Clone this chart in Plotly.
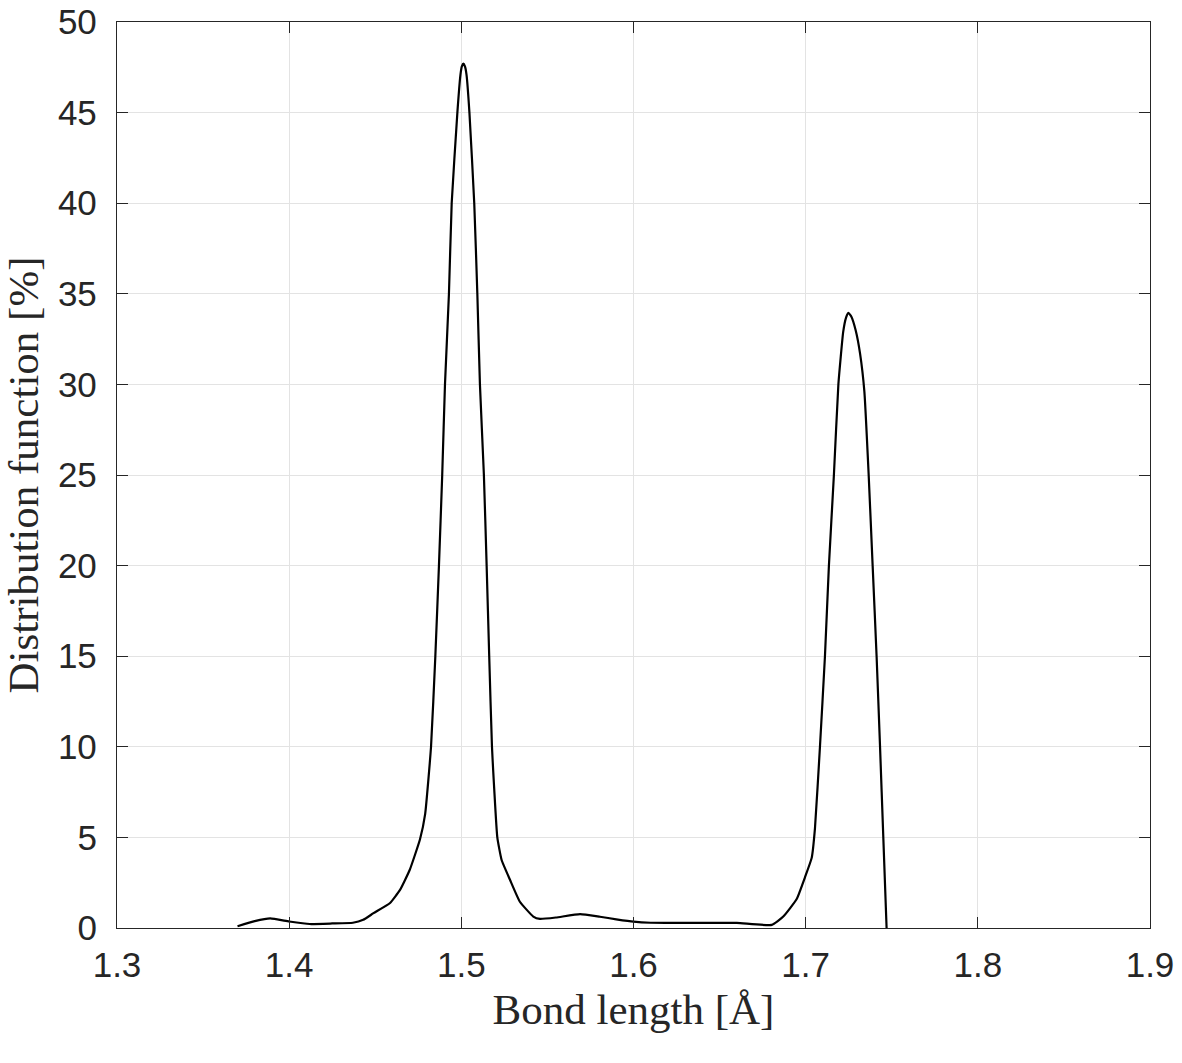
import plotly.graph_objects as go

bond_length = [1.37, 1.38, 1.389, 1.40, 1.412, 1.425, 1.437, 1.443, 1.449, 1.4586,
               1.4644, 1.470, 1.476, 1.479, 1.4824, 1.4849, 1.487, 1.4889, 1.4905, 1.4928,
               1.4944, 1.4977, 1.4995, 1.5003, 1.5012, 1.5021, 1.503, 1.5047, 1.5075, 1.5093,
               1.5108, 1.5131, 1.5147, 1.5162, 1.5178, 1.5209, 1.5234, 1.5283, 1.534, 1.5418,
               1.5457, 1.555, 1.569, 1.5805, 1.59, 1.6, 1.61, 1.63, 1.66, 1.6803,
               1.687, 1.6948, 1.6996, 1.7035, 1.7054, 1.7083, 1.7112, 1.7135, 1.7164, 1.719,
               1.7218, 1.7235, 1.7248, 1.7265, 1.729, 1.7316, 1.7341, 1.7366, 1.7389, 1.7412,
               1.7432, 1.7451, 1.747]
distribution = [0.1, 0.38, 0.53, 0.36, 0.22, 0.25, 0.29, 0.45, 0.82, 1.38,
                2.1, 3.2, 4.9, 6.3, 10, 15, 20, 25, 30, 35,
                40, 45, 47.1, 47.55, 47.7, 47.55, 47.1, 45, 40, 35,
                30, 25, 20, 15, 10, 5, 3.75, 2.65, 1.45, 0.63,
                0.5, 0.58, 0.77, 0.62, 0.48, 0.35, 0.29, 0.28, 0.28, 0.17,
                0.63, 1.6, 2.8, 3.87, 5.5, 10, 15, 20, 25, 30,
                32.9, 33.7, 33.95, 33.75, 33.0, 31.7, 29.6, 25, 20, 15,
                10, 5, 0]

x_ticks = [1.3, 1.4, 1.5, 1.6, 1.7, 1.8, 1.9]
y_ticks = [0, 5, 10, 15, 20, 25, 30, 35, 40, 45, 50]

fig = go.Figure()
fig.add_trace(go.Scatter(
    x=bond_length, y=distribution, mode="lines",
    line=dict(color="black", width=2.2, shape="spline", smoothing=0.4),
    showlegend=False,
))

axis_common = dict(
    showline=True, linecolor="#262626", linewidth=1.3, mirror="allticks",
    ticks="inside", ticklen=11, tickwidth=1.3, tickcolor="#262626",
    showgrid=True, gridcolor="#e3e3e3", gridwidth=1, zeroline=False,
    automargin=False,
    tickfont=dict(family="Liberation Sans, Arial, sans-serif", size=35, color="#262626"),
)
title_font = dict(family="Liberation Serif, Times New Roman, serif", size=43, color="#262626")

fig.update_layout(
    width=1182, height=1063,
    margin=dict(l=117, r=32, t=22, b=135),
    paper_bgcolor="white", plot_bgcolor="white",
    xaxis=dict(range=[1.3, 1.9], tickvals=x_ticks, ticktext=[f"{v:.1f}" for v in x_ticks],
               ticklabelstandoff=6,
               title=dict(text="Bond length [Å]", standoff=10, font=title_font),
               **axis_common),
    yaxis=dict(range=[0, 50], tickvals=y_ticks, ticktext=[str(v) for v in y_ticks],
               ticklabelstandoff=12,
               title=dict(text="Distribution function [%]", standoff=12, font=title_font),
               **axis_common),
)

fig.write_html("out.html")
